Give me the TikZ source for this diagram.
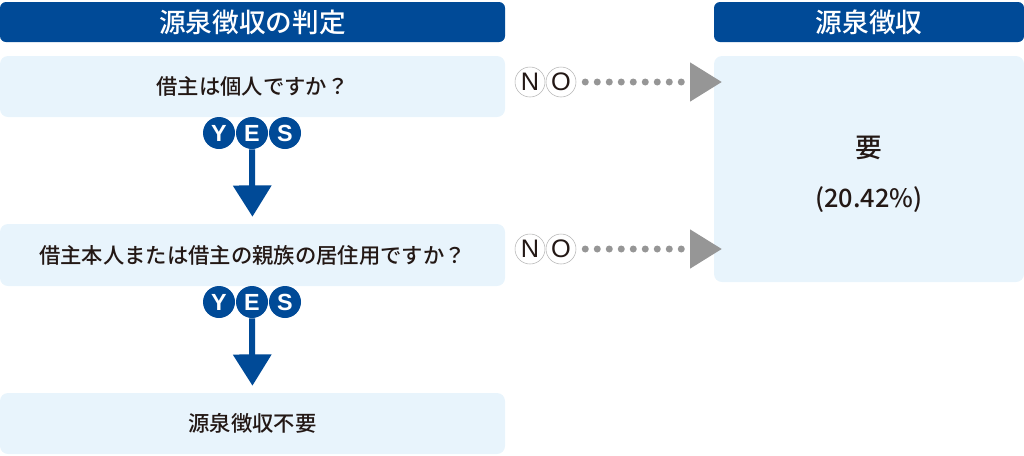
\documentclass[tikz,border=0pt]{standalone}
\usepackage{fontspec}
\setmainfont{Noto Sans CJK JP}
\newfontfamily\medfont{Noto Sans CJK JP Medium}
\newfontfamily\latinfont{Liberation Sans}
\usetikzlibrary{arrows.meta}
\definecolor{hdblue}{RGB}{0,74,151}
\definecolor{qblue}{RGB}{232,244,252}
\definecolor{ink}{RGB}{35,24,21}
\definecolor{dotgray}{RGB}{150,150,150}
\newdimen\px \px=0.75pt
\begin{document}
\begin{tikzpicture}[x=0.75pt,y=-0.75pt,
        head/.style={fill=hdblue, text=white, rounded corners=6\px, inner sep=0pt, font=\fontsize{20pt}{24pt}\medfont},
        qbox/.style={fill=qblue, text=ink, rounded corners=8\px, inner sep=0pt, font=\fontsize{16pt}{20pt}\medfont},
        yes/.style={circle, fill=hdblue, text=white, minimum size=32\px, inner sep=0pt, font=\fontsize{17.5pt}{20pt}\latinfont\bfseries},
        no/.style={circle, draw=dotgray!70, fill=white, text=ink, minimum size=30\px, inner sep=0pt, font=\fontsize{19pt}{22pt}\latinfont},
        down/.style={draw=hdblue, line width=6\px, -{Triangle[length=23.5pt,width=28pt]}, shorten >=7\px},
        nodots/.style={draw=dotgray, line width=7\px, line cap=round, dash pattern=on 0pt off 12\px, shorten <=9\px, -{Triangle[length=24pt,width=28pt,fill=dotgray]}}]
        \useasboundingbox (0,0) rectangle (1024,455);
        
        % headers
        \node[head, minimum width=505\px, minimum height=40\px] (hdJudge) at (252.5,22) {源泉徴収の判定};
        \node[head, minimum width=310\px, minimum height=40\px] (hdTax) at (869,22) {源泉徴収};
        %
        \node[qbox, minimum width=505\px, minimum height=61\px] (q1) at (252.5,86.5) {借主は個人ですか？};
        \node[qbox, minimum width=505\px, minimum height=62\px] (q2) at (252.5,255) {借主本人または借主の親族の居住用ですか？};
        \node[qbox, minimum width=505\px, minimum height=61\px] (q3) at (252.5,423.5) {源泉徴収不要};
        %
        \node[qbox, minimum width=310\px, minimum height=226\px] (ans) at (869,169) {};
        \node[text=ink, font=\fontsize{20pt}{24pt}\medfont] (req) at (869,148) {要};
        \node[text=ink, font=\fontsize{19pt}{22pt}\medfont] (rate) at (869,200) {(20.42\%)};
        
        % YES
        \foreach \l/\x in {Y/219,E/252,S/285} {
            \node[yes] (yesA\l) at (\x,133) {\l};
            \node[yes] (yesB\l) at (\x,302) {\l};
        }
        \draw[down] (yesAE.south) -- (q2.north);
        \draw[down] (yesBE.south) -- (q3.north);
        
        % NO
        \node[no] (noAN) at (530,82) {N};
        \node[no] (noAO) at (561,82) {O};
        \node[no] (noBN) at (530,249) {N};
        \node[no] (noBO) at (561,249) {O};
        \coordinate (tipA) at (722,82);
        \coordinate (tipB) at (722,249);
        \draw[nodots] (noAO.east) -- (tipA);
        \draw[nodots] (noBO.east) -- (tipB);
        
        \end{tikzpicture}
\end{document}
